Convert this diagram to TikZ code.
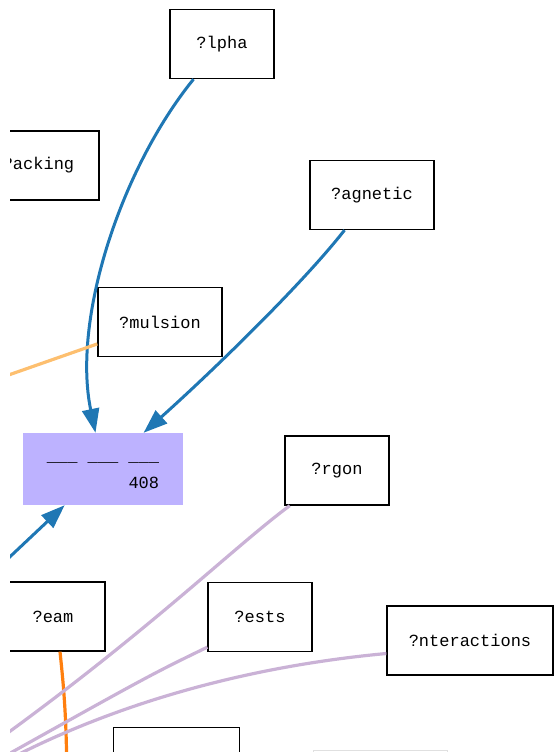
\documentclass[tikz,border=0pt]{standalone}
\usepackage{fontspec}
\setmonofont{Liberation Mono}
\usetikzlibrary{arrows.meta, positioning}

\definecolor{edgeblue}{HTML}{1F77B4}
\definecolor{blanklav}{HTML}{BDB2FF}
\definecolor{lightorange}{HTML}{FDBF6F}
\definecolor{deeporange}{HTML}{FF7F0E}
\definecolor{lilac}{HTML}{CAB2D6}

\begin{document}
\begin{tikzpicture}[x=1pt, y=-1pt]

        % Define styles for the boxes
        \tikzstyle{term} = [rectangle, minimum width=104pt, minimum height=69pt, inner xsep=21pt, text centered, draw=black, line width=1.3pt, fill=white, font=\ttfamily\fontsize{17}{20}\selectfont]
        \tikzstyle{wideterm} = [term, minimum width=124pt]
        \tikzstyle{blank} = [rectangle, minimum width=160pt, minimum height=72pt, align=right, fill=blanklav, font=\ttfamily\fontsize{17}{27}\selectfont]

        % Define edge styles
        \tikzstyle{arrow} = [line width=3pt, draw=edgeblue, -{Triangle[length=24pt,width=17pt]}]
        \tikzstyle{warm} = [line width=3.2pt, draw=lightorange]
        \tikzstyle{hot} = [line width=3.2pt, draw=deeporange]
        \tikzstyle{link} = [line width=3.2pt, draw=lilac]

        % Frame of the cut-out
        \useasboundingbox (0,0) rectangle (555,752);
        \clip (10,0) rectangle (555,752);

        % Nodes
        \node (alpha) [term] at (222,44) {?lpha};
        \node (packing) [term, minimum width=121pt] at (38.5,165.5) {?acking};
        \node (magnetic) [wideterm] at (372,195) {?agnetic};
        \node (emulsion) [wideterm] at (160,322) {?mulsion};
        \node (blank) [blank] at (103,469) {\rule{0pt}{13pt}\_\_\_ \_\_\_ \_\_\_\\408};
        \node (argon) [term] at (337,470.5) {?rgon};
        \node (team) [term] at (53,616.5) {?eam};
        \node (tests) [term] at (260,617) {?ests};
        \node (interactions) [term, minimum width=166pt] at (470,640.5) {?nteractions};
        \node (lower) [term, minimum width=126pt] at (176.5,762) {};
        \node (faint) [term, draw=black!12, line width=1pt, minimum width=134pt] at (380,785) {};

        % Loose ends outside the frame
        \coordinate (blueIn) at (-20,585);
        \coordinate (orangeIn) at (-20,385);
        \coordinate (orangeOut) at (67,800);
        \coordinate (argonOut) at (-30,760);
        \coordinate (testsOut) at (-20,770);
        \coordinate (interOut) at (-20,775);

        % Edges
        \draw [arrow] (alpha) .. controls (120,170) and (72,320) .. (blank);
        \draw [arrow] (magnetic) .. controls (300,287) and (205,378) .. (blank);
        \draw [arrow] (blueIn) -- (blank);
        \draw [warm] (orangeIn) -- (emulsion);
        \draw [hot] ([xshift=7pt]team.south) .. controls (64,690) and (67,720) .. (orangeOut);
        \draw [link] (argon) .. controls (230,550) and (140,640) .. (argonOut);
        \draw [link] ([yshift=5pt]tests.south west) .. controls (150,675) .. (testsOut);
        \draw [link] ([yshift=-13pt]interactions.west) .. controls (230,668) and (90,712) .. (interOut);

    \end{tikzpicture}
\end{document}
